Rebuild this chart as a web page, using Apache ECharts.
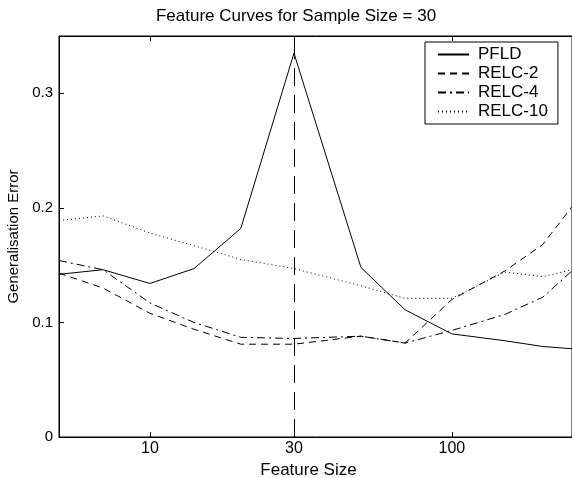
<!DOCTYPE html>
<html>
<head>
<meta charset="utf-8">
<script src="https://cdn.jsdelivr.net/npm/echarts@6/dist/echarts.min.js"></script>
<style>
  html, body { margin: 0; padding: 0; background: #fff; }
  #chart { width: 572px; height: 478px; }
</style>
</head>
<body>
<div id="chart"></div>
<script>
// 数据
const featureSizes = [5, 7, 10, 14, 20, 30, 50, 70, 100, 150, 200, 250];
const pfld   = [0.142, 0.146, 0.134, 0.147, 0.182, 0.335, 0.148, 0.111, 0.090, 0.084, 0.079, 0.077];
const relc2  = [0.143, 0.130, 0.108, 0.094, 0.081, 0.081, 0.088, 0.082, 0.120, 0.145, 0.168, 0.201];
const relc4  = [0.154, 0.146, 0.117, 0.100, 0.087, 0.086, 0.088, 0.082, 0.093, 0.107, 0.122, 0.145];
const relc10 = [0.189, 0.193, 0.178, 0.167, 0.155, 0.147, 0.132, 0.121, 0.121, 0.144, 0.140, 0.146];
const xTicks = [10, 30, 100];
const yTicks = [0, 0.1, 0.2, 0.3];
const sampleSize = 30;

const font = 'Liberation Sans, Arial, sans-serif';

function pairs(ys) {
  return featureSizes.map((x, i) => [x, ys[i]]);
}

function lineSeries(name, ys, type) {
  return {
    name: name,
    type: 'line',
    data: pairs(ys),
    symbol: 'none',
    color: '#000',
    lineStyle: { color: '#000', width: 1, type: type },
    animation: false
  };
}

const chart = echarts.init(document.getElementById('chart'));

// PFLD 曲线 + 样本数处的竖直虚线
const pfldSeries = lineSeries('PFLD', pfld, 'solid');
pfldSeries.markLine = {
  silent: true,
  symbol: 'none',
  label: { show: false },
  lineStyle: { color: '#000', width: 1, type: [18, 9] },
  data: [{ xAxis: sampleSize }]
};

const option = {
  title: {
    text: 'Feature Curves for Sample Size = 30',
    left: 291,
    textAlign: 'center',
    top: 3,
    textStyle: { fontFamily: font, fontSize: 17, fontWeight: 'normal', color: '#000' }
  },
  legend: {
    orient: 'vertical',
    left: 425,
    top: 42,
    padding: [4, 10, 4, 12],
    itemGap: 2,
    itemWidth: 31,
    itemHeight: 15,
    backgroundColor: '#fff',
    borderColor: '#000',
    borderWidth: 1,
    borderRadius: 0,
    itemStyle: { opacity: 0 },
    textStyle: { fontFamily: font, fontSize: 17, color: '#000', padding: [0, 0, 0, 4] },
    data: ['PFLD', 'RELC-2', 'RELC-4', 'RELC-10']
  },
  grid: {
    left: 59,
    right: 0,
    top: 36,
    bottom: 41,
    outerBoundsMode: 'none',
    show: true,
    borderColor: '#000',
    borderWidth: 1
  },
  xAxis: [
    {
      type: 'log',
      logBase: 10,
      min: 5,
      max: 250,
      name: 'Feature Size',
      nameLocation: 'middle',
      nameGap: 22,
      nameTextStyle: { fontFamily: font, fontSize: 17, color: '#000', padding: [0, 14, 0, 0] },
      axisLine: { lineStyle: { color: '#000', width: 1 } },
      axisTick: { inside: true, length: 5, customValues: xTicks, lineStyle: { color: '#000' } },
      axisLabel: { customValues: xTicks, fontFamily: font, fontSize: 16, color: '#000', margin: 4 },
      splitLine: { show: false }
    },
    {
      type: 'log',
      logBase: 10,
      min: 5,
      max: 250,
      position: 'top',
      axisLine: { lineStyle: { color: '#000', width: 1 } },
      axisTick: { inside: true, length: 5, customValues: xTicks, lineStyle: { color: '#000' } },
      axisLabel: { show: false },
      splitLine: { show: false }
    }
  ],
  yAxis: {
    type: 'value',
    min: 0,
    max: 0.35,
    name: 'Generalisation Error',
    nameLocation: 'middle',
    nameGap: 36,
    nameTextStyle: { fontFamily: font, fontSize: 15, color: '#000' },
    axisLine: { show: true, lineStyle: { color: '#000', width: 1 } },
    axisTick: { show: true, inside: true, length: 5, customValues: yTicks, lineStyle: { color: '#000' } },
    axisLabel: { customValues: yTicks, fontFamily: font, fontSize: 15, color: '#000', margin: 6 },
    splitLine: { show: false }
  },
  series: [
    pfldSeries,
    lineSeries('RELC-2', relc2, [7, 5]),
    lineSeries('RELC-4', relc4, [8, 4, 2, 4]),
    lineSeries('RELC-10', relc10, [1, 3])
  ]
};

chart.setOption(option);
</script>
</body>
</html>
